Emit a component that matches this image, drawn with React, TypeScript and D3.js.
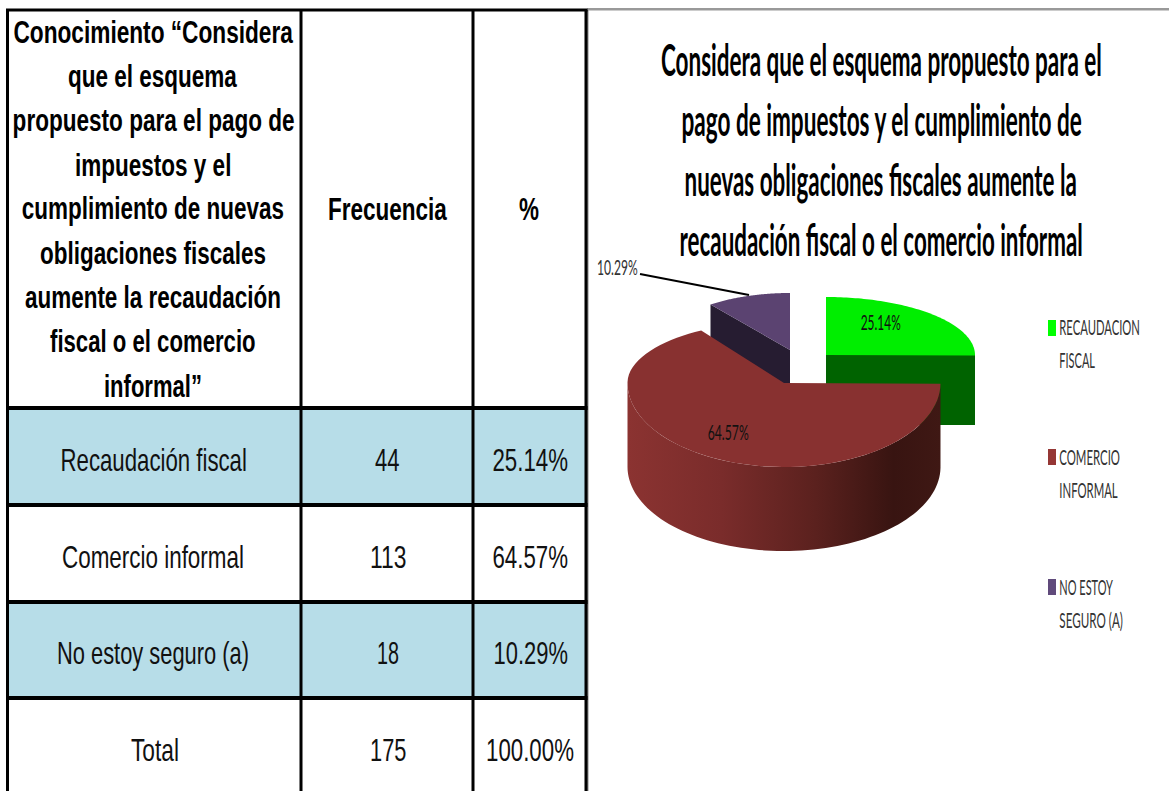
import React, { useLayoutEffect, useRef } from "react";
import * as d3 from "d3";

const categories = ["Recaudación fiscal", "Comercio informal", "No estoy seguro (a)"];
const totalLabel = "Total";
const frequencies = [44, 113, 18];
const percents = ["25.14%", "64.57%", "10.29%"];
const totalFrequency = "175";
const totalPercent = "100.00%";
const pieShares = [25.14, 64.57, 10.29];
const headerLines = [
  "Conocimiento “Considera",
  "que el esquema",
  "propuesto para el pago de",
  "impuestos y el",
  "cumplimiento de nuevas",
  "obligaciones fiscales",
  "aumente la recaudación",
  "fiscal o el comercio",
  "informal”",
];
const titleLines = [
  "Considera que el esquema propuesto para el",
  "pago de impuestos y el cumplimiento de",
  "nuevas obligaciones fiscales aumente la",
  "recaudación fiscal o el comercio informal",
];
const legendLines = [
  ["RECAUDACION", "FISCAL"],
  ["COMERCIO", "INFORMAL"],
  ["NO ESTOY", "SEGURO (A)"],
];
const legendColors = ["#00ff00", "#953735", "#604a7b"];

// layout (not data)
const W = 1169, H = 791;
const colX = [7.5, 301, 473, 586];
const rowY = [10, 408, 505, 602, 698, 791];
const ARIAL = "'Liberation Sans', Arial, sans-serif";
const LATO = "Lato, 'Open Sans', sans-serif";

type Fit = { x0: number; x1: number; y: number };
function T({ s, f, size, family, weight = 400, fill = "#000" }: { s: string; f: Fit; size: number; family: string; weight?: number; fill?: string }) {
  const ref = useRef<SVGTextElement>(null);
  useLayoutEffect(() => {
    const el = ref.current;
    if (!el) return;
    const natural = el.getComputedTextLength() || 1;
    el.setAttribute("transform", `translate(${f.x0},${f.y}) scale(${(f.x1 - f.x0) / natural},1)`);
  }, [s, f.x0, f.x1, f.y]);
  return (
    <text ref={ref} transform={`translate(${f.x0},${f.y})`} fontFamily={family} fontSize={size} fontWeight={weight} fill={fill}>{s}</text>
  );
}

const headerFits: Fit[] = [
  { x0: 13.5, x1: 293, y: 42.7 }, { x0: 68, x1: 237, y: 87 }, { x0: 12.6, x1: 294.7, y: 131 },
  { x0: 75, x1: 231.5, y: 175.5 }, { x0: 21.8, x1: 284, y: 219 }, { x0: 40, x1: 266, y: 263.5 },
  { x0: 25, x1: 281, y: 308 }, { x0: 50, x1: 255.6, y: 352 }, { x0: 104, x1: 202, y: 396.5 },
];
const titleFits: Fit[] = [
  { x0: 661, x1: 1102, y: 76 }, { x0: 681.5, x1: 1082, y: 136 },
  { x0: 684.5, x1: 1077, y: 196 }, { x0: 679.6, x1: 1083, y: 256 },
];
const rowBase = [471, 567.7, 664, 761];
const catFits = [[60.5, 247], [62, 244], [57, 249], [131, 179]];
const freqFits = [[375, 399.5], [370, 406.4], [377, 399], [370, 406.4]];
const pctFits = [[492.5, 568], [492.5, 568], [493.6, 568], [486, 574]];
const legendY = [[335, 368], [465, 498], [595, 628]];
const legendW = [[1140, 1095], [1120, 1117.7], [1113, 1123]];
const swatchY = [320, 449, 579];
const labelFits: Fit[] = [
  { x0: 860.7, x1: 900.7, y: 330 }, { x0: 707.7, x1: 748.7, y: 440 }, { x0: 597, x1: 637.7, y: 275 },
];

const slices = d3.pie<number>().sort(null)(pieShares);

type Geo = { cx: number; cy: number; rx: number; ryUp: number; ryDown: number; warp?: number };
const green: Geo = { cx: 826, cy: 355, rx: 149, ryUp: 58, ryDown: 58 };
const brown: Geo = { cx: 784, cy: 383, rx: 156.5, ryUp: 62, ryDown: 84, warp: 0.826 };
const purple: Geo = { cx: 790, cy: 350, rx: 132, ryUp: 57, ryDown: 57 };
const GREEN_DEPTH = 70, BROWN_DEPTH = 84, PURPLE_DEPTH = 72;

function pt(g: Geo, a: number, dy = 0): [number, number] {
  let c = Math.cos(a), s = Math.sin(a);
  if (c > 0 && g.warp) {
    const t = Math.atan2(g.warp * s, c);
    c = Math.cos(t);
    s = Math.sin(t);
  }
  return [g.cx + g.rx * s, g.cy - (c > 0 ? g.ryUp : g.ryDown) * c + dy];
}
const line = d3.line();
function arcPts(g: Geo, a0: number, a1: number, dy = 0): [number, number][] {
  const n = 80;
  return d3.range(n + 1).map((i) => pt(g, a0 + ((a1 - a0) * i) / n, dy));
}
function sector(g: Geo, a0: number, a1: number) {
  return line([[g.cx, g.cy], ...arcPts(g, a0, a1)])! + "Z";
}

export default function App() {
  const [sG, sB, sP] = slices;
  const gEnd = pt(green, sG.endAngle);
  const pStart = pt(purple, sP.startAngle);
  const lowStart = Math.max(sB.startAngle, Math.PI / 2);
  const lowEnd = (3 * Math.PI) / 2;
  const brownSide =
    line([...arcPts(brown, lowStart, lowEnd), ...arcPts(brown, lowEnd, lowStart, BROWN_DEPTH)])! + "Z";

  return (
    <svg width={W} height={H} viewBox={`0 0 ${W} ${H}`} style={{ position: "absolute", left: 0, top: 0, display: "block", background: "#fff" }}>
      <defs>
        <linearGradient id="side" gradientUnits="userSpaceOnUse" x1={brown.cx - brown.rx} x2={brown.cx + brown.rx} y1={0} y2={0}>
          <stop offset="0" stopColor="#8b3331" />
          <stop offset="0.3" stopColor="#7a2c2b" />
          <stop offset="0.6" stopColor="#5b211e" />
          <stop offset="0.85" stopColor="#381411" />
          <stop offset="1" stopColor="#3f1814" />
        </linearGradient>
      </defs>

      {[0, 2].map((i) => (
        <rect key={i} x={colX[0]} y={rowY[i + 1]} width={colX[3] - colX[0]} height={rowY[i + 2] - rowY[i + 1]} fill="#b7dde8" />
      ))}
      <rect x={587} y={8} width={W - 587} height={2.5} fill="#999" />
      <rect x={587} y={10} width={1.5} height={H - 10} fill="#888" />
      {rowY.slice(0, 5).map((y, i) => (
        <rect key={i} x={colX[0] - 1.5} y={y - (i === 0 ? 1.5 : 2)} width={colX[3] - colX[0] + 3} height={i === 0 ? 3 : 4} fill="#000" />
      ))}
      {colX.map((x, i) => (
        <rect key={i} x={x - 1.5} y={rowY[0]} width={3} height={H - rowY[0]} fill="#000" />
      ))}

      {headerLines.map((s, i) => <T key={i} s={s} f={headerFits[i]} size={31} family={ARIAL} weight={700} />)}
      <T s="Frecuencia" f={{ x0: 328, x1: 447, y: 220 }} size={31} family={ARIAL} weight={700} />
      <T s="%" f={{ x0: 519, x1: 539, y: 220 }} size={31} family={ARIAL} weight={700} />
      {[...categories, totalLabel].map((s, i) => <T key={s} s={s} f={{ x0: catFits[i][0], x1: catFits[i][1], y: rowBase[i] }} size={31} family={ARIAL} fill="#111" />)}
      {[...frequencies.map(String), totalFrequency].map((s, i) => <T key={i} s={s} f={{ x0: freqFits[i][0], x1: freqFits[i][1], y: rowBase[i] }} size={31} family={ARIAL} fill="#111" />)}
      {[...percents, totalPercent].map((s, i) => <T key={i} s={s} f={{ x0: pctFits[i][0], x1: pctFits[i][1], y: rowBase[i] }} size={31} family={ARIAL} fill="#111" />)}

      {titleLines.map((s, i) => <T key={i} s={s} f={titleFits[i]} size={44} family={LATO} weight={700} />)}

      <rect x={green.cx} y={green.cy} width={gEnd[0] - green.cx} height={GREEN_DEPTH} fill="#006300" />
      <path d={sector(green, sG.startAngle, sG.endAngle)} fill="#00ee00" />
      <path
        d={line([pStart, [purple.cx, purple.cy], [purple.cx, purple.cy + PURPLE_DEPTH], [pStart[0], pStart[1] + PURPLE_DEPTH]])! + "Z"}
        fill="#261c31"
      />
      <path d={sector(purple, sP.startAngle, sP.endAngle)} fill="#5b4371" />
      <path d={brownSide} fill="url(#side)" />
      <path d={sector(brown, sB.startAngle, sB.endAngle)} fill="#883130" />

      <line x1={640} y1={274} x2={749} y2={295} stroke="#000" strokeWidth={1.8} />

      {percents.map((s, i) => <T key={i} s={s} f={labelFits[i]} size={22} family={LATO} fill={i === 2 ? "#333" : "#111"} />)}

      {legendLines.map((ls, i) => (
        <g key={i}>
          <rect x={1048} y={swatchY[i]} width={8} height={16} fill={legendColors[i]} />
          {ls.map((s, j) => <T key={j} s={s} f={{ x0: 1059.3, x1: legendW[i][j], y: legendY[i][j] }} size={22} family={LATO} fill="#333" />)}
        </g>
      ))}
    </svg>
  );
}
